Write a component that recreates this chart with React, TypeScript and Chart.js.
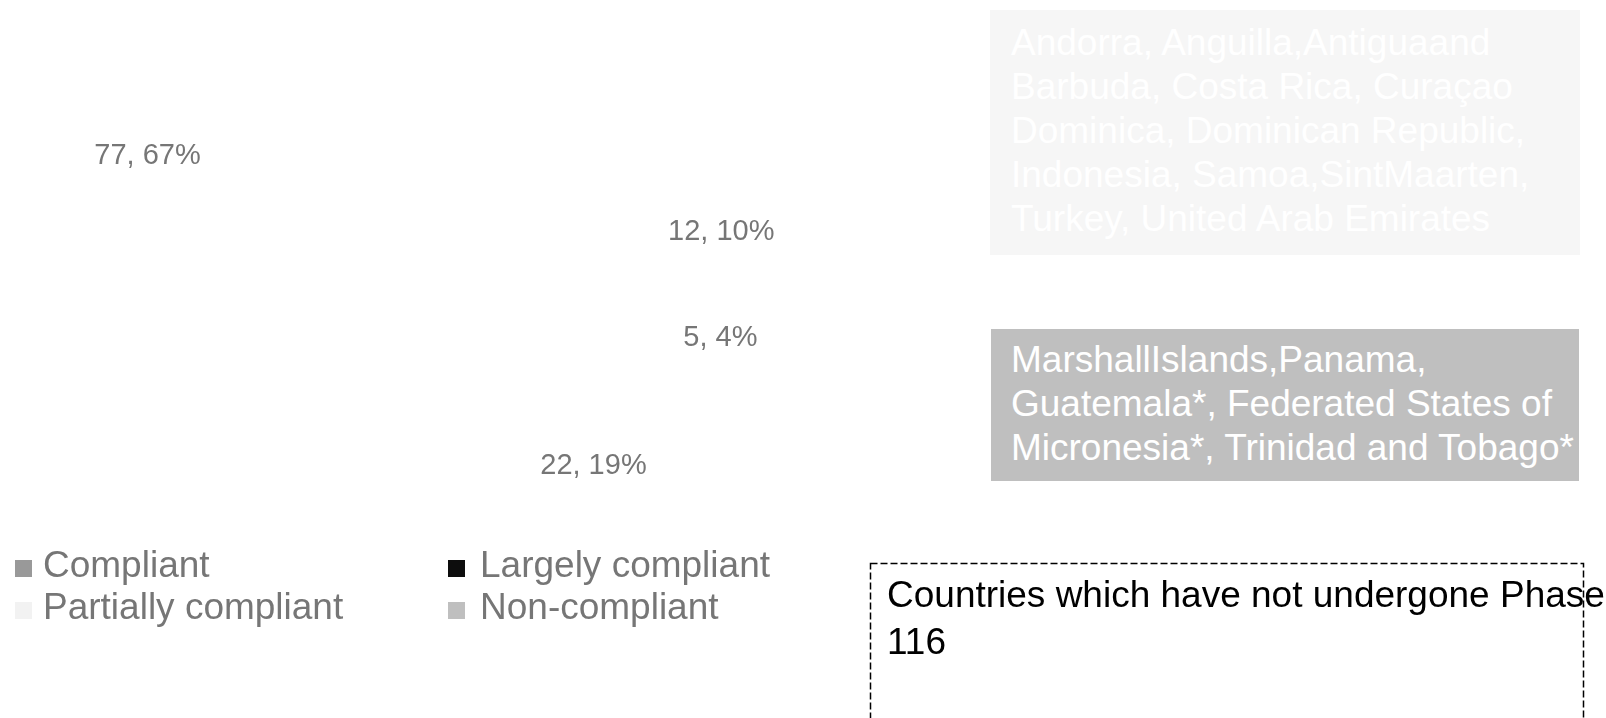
import React, { useEffect, useRef } from "react";
import { Chart, registerables } from "chart.js";

Chart.register(...registerables);

// ---- data ----
const categories = ["Compliant", "Largely compliant", "Partially compliant", "Non-compliant"];
const counts = [22, 77, 12, 5];
const percents = [19, 67, 10, 4];
const legendColors = ["#999999", "#0d0d0d", "#f2f2f2", "#bfbfbf"];
const partiallyCountries = [
  "Andorra, Anguilla,Antiguaand",
  "Barbuda, Costa Rica, Curaçao",
  "Dominica, Dominican Republic,",
  "Indonesia, Samoa,SintMaarten,",
  "Turkey, United Arab Emirates",
];
const nonCompliantCountries = [
  "MarshallIslands,Panama,",
  "Guatemala*, Federated States of",
  "Micronesia*, Trinidad and Tobago*",
];
const phaseTitle = "Countries which have not undergone Phase";
const phaseCount = "116";

// ---- styles ----
const FONT = "'Liberation Sans', Arial, sans-serif";
const labelDistance = [0.709, 1.147, 0.9, 0.877];
const labelAngleNudge = [0, 0, 2.5, -1]; // degrees
const legendBoxX = [15, 448];
const legendTextX = [43, 480];
const legendRows = [577, 619];
const legendBox = 17;

const labelPlugin = {
  id: "sliceLabels",
  afterDatasetsDraw(chart: any) {
    const ctx = chart.ctx;
    const meta = chart.getDatasetMeta(0);
    ctx.save();
    ctx.font = `29px ${FONT}`;
    ctx.fillStyle = "#767676";
    ctx.textAlign = "center";
    ctx.textBaseline = "middle";
    meta.data.forEach((arc: any, i: number) => {
      const p = arc.getProps(["x", "y", "startAngle", "endAngle", "outerRadius"], true);
      const mid = (p.startAngle + p.endAngle) / 2 + (labelAngleNudge[i] * Math.PI) / 180;
      const d = p.outerRadius * labelDistance[i];
      ctx.fillText(`${counts[i]}, ${percents[i]}%`, p.x + Math.cos(mid) * d, p.y + Math.sin(mid) * d);
    });
    ctx.restore();
  },
};

const legendPlugin = {
  id: "gridLegend",
  afterDraw(chart: any) {
    const ctx = chart.ctx;
    ctx.save();
    ctx.font = `37px ${FONT}`;
    ctx.textBaseline = "alphabetic";
    ctx.textAlign = "left";
    categories.forEach((c, i) => {
      const col = i % 2;
      const row = Math.floor(i / 2);
      const base = legendRows[row];
      ctx.fillStyle = legendColors[i];
      ctx.fillRect(legendBoxX[col], base - legendBox, legendBox, legendBox);
      ctx.fillStyle = "#767676";
      ctx.fillText(c, legendTextX[col], base);
    });
    // dashed box
    ctx.setLineDash([7, 3]);
    ctx.strokeStyle = "#000";
    ctx.lineWidth = 1.5;
    ctx.strokeRect(870.5, 563.5, 713, 200);
    ctx.restore();
  },
};

export default function App() {
  const ref = useRef<HTMLCanvasElement | null>(null);
  useEffect(() => {
    if (!ref.current) return;
    const chart = new Chart(ref.current, {
      type: "pie",
      data: {
        labels: categories,
        datasets: [
          {
            data: counts,
            backgroundColor: "rgba(0,0,0,0)",
            borderWidth: 0,
          },
        ],
      },
      options: {
        responsive: false,
        animation: false,
        devicePixelRatio: 1,
        rotation: 107,
        layout: { padding: { left: 160, right: 846, top: 0, bottom: 118 } },
        plugins: { legend: { display: false }, tooltip: { enabled: false } },
      },
      plugins: [labelPlugin, legendPlugin],
    } as any);
    return () => chart.destroy();
  }, []);

  const lineStyle: React.CSSProperties = { whiteSpace: "nowrap" };
  return (
    <div style={{ position: "absolute", left: 0, top: 0, width: 1606, height: 718, overflow: "hidden", background: "#fff", fontFamily: FONT }}>
      <canvas ref={ref} width={1606} height={718} style={{ position: "absolute", left: 0, top: 0 }} />
      <div style={{ position: "absolute", left: 990, top: 10, width: 590, height: 245, background: "#f6f6f6", color: "#ffffff", fontSize: 37, lineHeight: "44px", paddingLeft: 21, paddingTop: 11, boxSizing: "border-box" }}>
        {partiallyCountries.map((l, i) => (
          <div key={i} style={lineStyle}>{l}</div>
        ))}
      </div>
      <div style={{ position: "absolute", left: 991, top: 329, width: 588, height: 152, background: "#bfbfbf", color: "#ffffff", fontSize: 37, lineHeight: "44px", paddingLeft: 20, paddingTop: 9, boxSizing: "border-box" }}>
        {nonCompliantCountries.map((l, i) => (
          <div key={i} style={lineStyle}>{l}</div>
        ))}
      </div>
      <div style={{ position: "absolute", left: 887, top: 571, color: "#000", fontSize: 37, lineHeight: "47px" }}>
        <div style={lineStyle}>{phaseTitle}</div>
        <div style={lineStyle}>{phaseCount}</div>
      </div>
    </div>
  );
}
